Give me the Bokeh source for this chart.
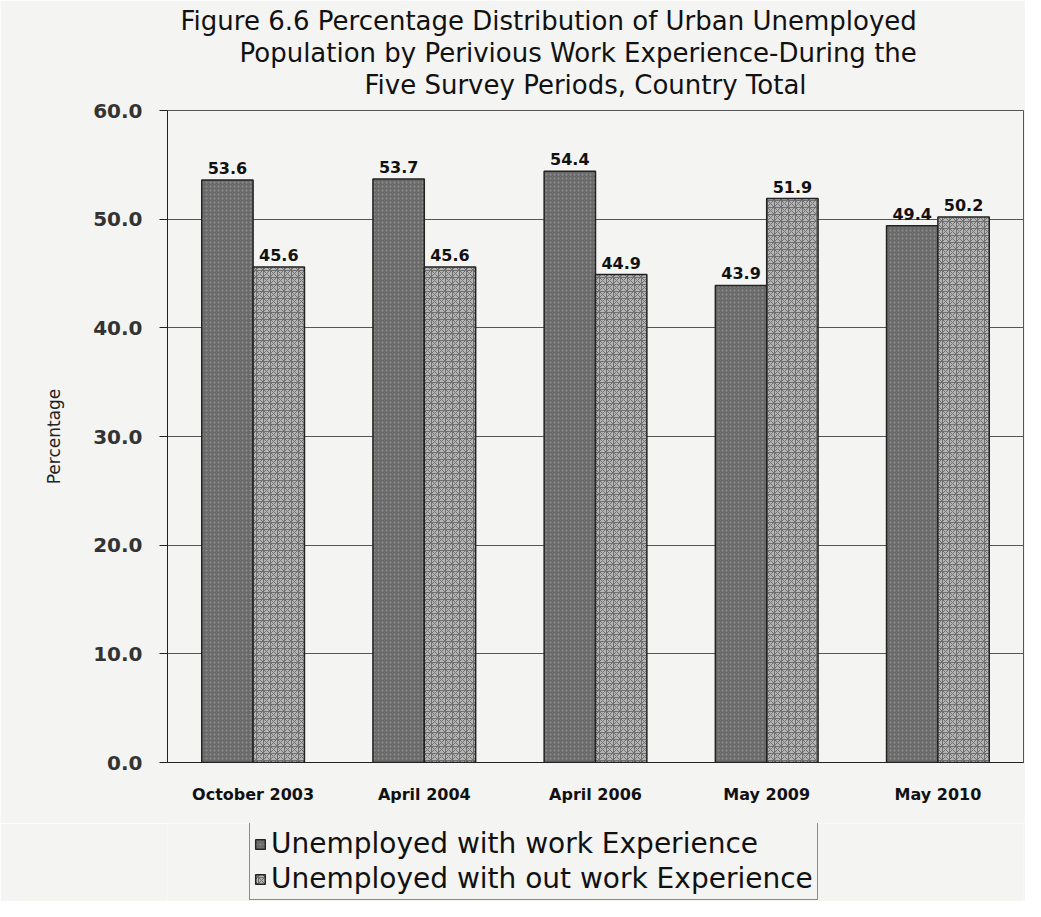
from bokeh.plotting import figure
from bokeh.models import ColumnDataSource, LabelSet, Legend, LegendItem, Title, FixedTicker, NumeralTickFormatter
from bokeh.core.properties import value
from bokeh.transform import dodge
from bokeh.layouts import column
from bokeh.embed import file_html
from bokeh.resources import INLINE

categories = ["October 2003", "April 2004", "April 2006", "May 2009", "May 2010"]
with_exp = [53.6, 53.7, 54.4, 43.9, 49.4]
without_exp = [45.6, 45.6, 44.9, 51.9, 50.2]
series_names = ["Unemployed with work Experience", "Unemployed with out work Experience"]
title_lines = [
    "Figure 6.6  Percentage Distribution of Urban Unemployed",
    "Population by Perivious Work Experience-During the",
    "Five Survey Periods, Country Total",
]
title_offsets = [13, 72, 197]
y_ticks = [0, 10, 20, 30, 40, 50, 60]

src = ColumnDataSource(dict(
    cat=categories,
    a=with_exp,
    b=without_exp,
    a_lbl=[f"{v:.1f}" for v in with_exp],
    b_lbl=[f"{v:.1f}" for v in without_exp],
))

FONT = "DejaVu Sans"
BG = "#f4f4f2"
STYLE_A = dict(fill_color="#6a6a6a", line_color="#222222", line_width=1.5,
               hatch_pattern="dot", hatch_color="#8f8f8f", hatch_scale=4, hatch_weight=1)
STYLE_B = dict(fill_color="#b4b4b4", line_color="#222222", line_width=1.5,
               hatch_pattern="criss_cross", hatch_color="#707070", hatch_scale=7, hatch_weight=1)

p = figure(x_range=categories, y_range=(0, 60), width=1025, height=823,
           output_backend="svg", toolbar_location=None,
           min_border_left=167, min_border_right=2, min_border_top=110, min_border_bottom=61,
           background_fill_color=BG, border_fill_color=BG)

p.add_layout(Title(text=" ", text_font_size="8px", standoff=0), "above")
for line, off in reversed(list(zip(title_lines, title_offsets))):
    p.add_layout(Title(text=line, align="left", offset=off, text_font=FONT, text_font_size="26px",
                       text_font_style="normal", text_color="#111111", standoff=0), "above")

w = 0.3
ra = p.vbar(x=dodge("cat", -0.15, range=p.x_range), top="a", width=w, source=src, **STYLE_A)
rb = p.vbar(x=dodge("cat", 0.15, range=p.x_range), top="b", width=w, source=src, **STYLE_B)

for col, off in (("a", -0.15), ("b", 0.15)):
    p.add_layout(LabelSet(x=dodge("cat", off, range=p.x_range), y=col, text=col + "_lbl",
                          source=src, text_align="center", text_baseline="bottom",
                          y_offset=6, text_font_size=value("16px"), text_font_style=value("bold"),
                          text_font=value(FONT), text_color="#111111"))

p.yaxis.ticker = FixedTicker(ticks=y_ticks)
p.yaxis.formatter = NumeralTickFormatter(format="0.0")
p.yaxis.axis_label = "Percentage"
p.yaxis.axis_label_text_font = FONT
p.yaxis.axis_label_text_font_size = "17px"
p.yaxis.axis_label_text_font_style = "normal"
p.yaxis.axis_label_text_color = "#222222"
p.yaxis.axis_label_standoff = 26
p.yaxis.major_label_text_font = FONT
p.yaxis.major_label_text_font_size = "20px"
p.yaxis.major_label_text_font_style = "bold"
p.yaxis.major_label_text_color = "#333333"
p.yaxis.major_label_standoff = 17
p.yaxis.major_tick_out = 8
p.yaxis.major_tick_in = 0
p.yaxis.minor_tick_line_color = None
p.yaxis.axis_line_color = "#222222"
p.yaxis.major_tick_line_color = "#222222"

p.xaxis.major_label_text_font = FONT
p.xaxis.major_label_text_font_size = "16px"
p.xaxis.major_label_text_font_style = "bold"
p.xaxis.major_label_text_color = "#111111"
p.xaxis.major_tick_line_color = None
p.xaxis.axis_line_color = "#222222"
p.xaxis.major_label_standoff = 16

p.xgrid.grid_line_color = None
p.ygrid.grid_line_color = "#555555"
p.ygrid.grid_line_width = 1
p.outline_line_color = "#555555"
p.outline_line_width = 1

# legend strip below the chart (dummy renderers carry only the legend styling)
lf = figure(width=1025, height=78, x_range=(0, 1), y_range=(0, 1),
            x_axis_type=None, y_axis_type=None,
            output_backend="svg", toolbar_location=None, min_border=0,
            background_fill_color=BG, border_fill_color=BG, outline_line_color=None)
lf.grid.visible = False
la = lf.vbar(x=[0.5], top=[float("nan")], width=0.1, **STYLE_A)
lb = lf.vbar(x=[0.5], top=[float("nan")], width=0.1, **STYLE_B)
legend = Legend(items=[LegendItem(label=series_names[0], renderers=[la]),
                       LegendItem(label=series_names[1], renderers=[lb])],
                orientation="vertical", location=(82, 1),
                label_text_font=FONT, label_text_font_size="28px", label_text_color="#111111",
                glyph_width=12, glyph_height=12, spacing=2, padding=4, margin=0,
                label_standoff=5, border_line_color="#222222", border_line_width=1,
                background_fill_color=BG, background_fill_alpha=1)
lf.add_layout(legend, "center")

open("out.html", "w").write(file_html(column(p, lf, spacing=0), INLINE))
